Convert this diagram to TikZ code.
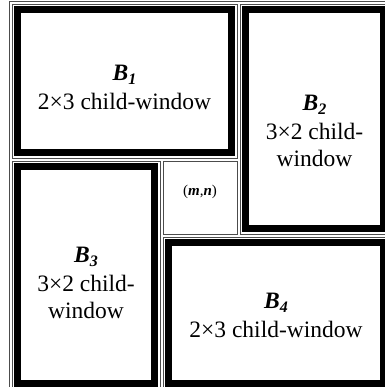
\documentclass[tikz,border=0pt]{standalone}
\usepackage{fontspec}
\setmainfont{Liberation Serif}
\newcommand{\blkname}[1]{\textbf{\textit{B}}\raisebox{-0.2em}{\fontsize{16}{16}\selectfont\bfseries\itshape #1}}

\begin{document}
\begin{tikzpicture}[
	x=1pt, y=-1pt,
	cell/.style = {
		draw=black!70,
		line width=0.8pt,
		inner sep=0pt,
		anchor=north west,
	},
	win/.style = {
		draw,
		line width=7pt,
		inner sep=0pt,
	},
	txt/.style = {
		align=center,
		inner sep=0pt,
		anchor=north,
		font=\fontsize{23.5}{27}\selectfont,
	},
]
\useasboundingbox (0,0) rectangle (384,387);

% outer border
\draw[draw=black!70, line width=0.8pt] (9,1.5) rectangle (400,400);

% B1 block
\node [cell, minimum width=225, minimum height=154] (b1) at (12,4) {};
\node [win, minimum width=214, minimum height=143] (b1w) at (b1.center) {};
\node [txt] (b1t) at (124.5,64.5) {\blkname{1}\\[2pt] 2×3 child-window};

% B2 block
\node [cell, minimum width=149, minimum height=230] (b2) at (240,4) {};
\node [win, minimum width=138, minimum height=219] (b2w) at (b2.center) {};
\node [txt] (b2t) at (314.5,94.5) {\blkname{2}\\[2pt] 3×2 child-\\ window};

% B3 block
\node [cell, minimum width=148, minimum height=228] (b3) at (12,161) {};
\node [win, minimum width=137, minimum height=217] (b3w) at (b3.center) {};
\node [txt] (b3t) at (86,246.5) {\blkname{3}\\[2pt] 3×2 child-\\ window};

% centre window (m,n)
\node [cell, minimum width=74, minimum height=73] (mn) at (163,161) {};
\node [inner sep=0pt, anchor=base, font=\fontsize{15}{15}\selectfont] (mnt) at (200,195)
	{(\textbf{\textit{m}},\textbf{\textit{n}})};

% B4 block
\node [cell, minimum width=226, minimum height=152] (b4) at (163,237) {};
\node [win, minimum width=215, minimum height=141] (b4w) at (b4.center) {};
\node [txt] (b4t) at (276,292.5) {\blkname{4}\\[2pt] 2×3 child-window};

\end{tikzpicture}
\end{document}
